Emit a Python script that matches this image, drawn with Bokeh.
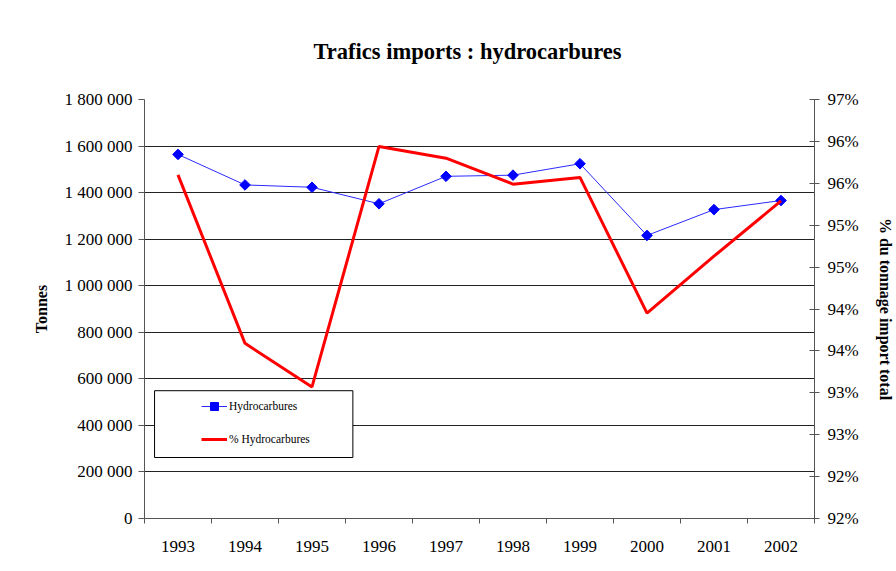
from bokeh.plotting import figure
from bokeh.models import (Range1d, LinearAxis, FixedTicker, Legend, LegendItem,
                          BoxAnnotation)
from bokeh.embed import file_html
from bokeh.resources import INLINE
import numpy as np

# ---- data ----
years = ["1993", "1994", "1995", "1996", "1997", "1998", "1999", "2000", "2001", "2002"]
tonnes = [1564000, 1433000, 1423000, 1352000, 1470000, 1475000, 1524000, 1216000, 1327000, 1366000]
pct_hydro = [95.60, 93.59, 93.07, 95.94, 95.80, 95.49, 95.57, 93.95, 94.63, 95.29]

left_ticks = [0, 200000, 400000, 600000, 800000, 1000000, 1200000, 1400000, 1600000, 1800000]
left_labels = ["0", "200 000", "400 000", "600 000", "800 000", "1 000 000",
               "1 200 000", "1 400 000", "1 600 000", "1 800 000"]
right_ticks = [91.5, 92.0, 92.5, 93.0, 93.5, 94.0, 94.5, 95.0, 95.5, 96.0, 96.5]
right_labels = ["92%", "92%", "93%", "93%", "94%", "94%", "95%", "95%", "96%", "96%", "97%"]

title_text = "Trafics imports : hydrocarbures"
left_title = "Tonnes"
right_title = "% du tonnage import total"
series_names = ["Hydrocarbures", "% Hydrocarbures"]

FONT = "Liberation Serif"

xc = [i + 0.5 for i in range(len(years))]
xb = [i for i in range(len(years) + 1)]

p = figure(width=896, height=571, output_backend="svg", toolbar_location=None,
           x_range=Range1d(0, len(years)), y_range=Range1d(0, 1800000),
           min_border_left=144, min_border_right=80, min_border_top=99,
           min_border_bottom=53, title=title_text)
p.extra_y_ranges = {"pct": Range1d(91.5, 96.5)}

p.title.text_font = FONT
p.title.text_font_size = "22.5px"
p.title.text_font_style = "bold"
p.title.align = "left"
p.title.offset = 169
p.title.standoff = 72
p.title.text_color = "#000000"

p.outline_line_color = None
p.background_fill_color = "white"
p.border_fill_color = "white"

p.xgrid.visible = False
p.ygrid.ticker = FixedTicker(ticks=left_ticks)
p.ygrid.grid_line_color = "#222222"
p.ygrid.grid_line_width = 1

axis_col = "#555555"

# x axis
xa = p.xaxis[0]
xa.ticker = FixedTicker(ticks=xc, minor_ticks=xb)
xa.major_label_overrides = {x: y for x, y in zip(xc, years)}
xa.major_tick_out = 0
xa.major_tick_in = 0
xa.minor_tick_out = 5
xa.minor_tick_in = 0
xa.minor_tick_line_color = axis_col
xa.axis_line_color = axis_col
xa.major_label_standoff = 17
xa.major_label_text_font = FONT
xa.major_label_text_font_size = "17px"
xa.major_label_text_color = "#000000"

# left axis
ya = p.yaxis[0]
ya.ticker = FixedTicker(ticks=left_ticks)
ya.major_label_overrides = {t: l for t, l in zip(left_ticks, left_labels)}
ya.major_tick_out = 6
ya.major_tick_in = 0
ya.minor_tick_line_color = None
ya.axis_line_color = axis_col
ya.major_tick_line_color = axis_col
ya.major_label_standoff = 6
ya.major_label_text_font = FONT
ya.major_label_text_font_size = "17px"
ya.major_label_text_color = "#000000"
ya.axis_label = left_title
ya.axis_label_text_font = FONT
ya.axis_label_text_font_size = "16px"
ya.axis_label_text_font_style = "bold"
ya.axis_label_standoff = 12
ya.axis_label_text_color = "#000000"

# right axis
ra = LinearAxis(y_range_name="pct", ticker=FixedTicker(ticks=right_ticks))
ra.major_label_overrides = {t: l for t, l in zip(right_ticks, right_labels)}
ra.major_tick_out = 5
ra.major_tick_in = 5
ra.minor_tick_line_color = None
ra.axis_line_color = axis_col
ra.major_tick_line_color = axis_col
ra.major_label_standoff = 8
ra.major_label_text_font = FONT
ra.major_label_text_font_size = "17px"
ra.major_label_text_color = "#000000"
ra.axis_label = right_title
ra.axis_label_text_font = FONT
ra.axis_label_text_font_size = "16px"
ra.axis_label_text_font_style = "bold"
ra.axis_label_standoff = 15
ra.axis_label_text_color = "#000000"
p.add_layout(ra, "right")

# series
bl = p.line(xc, tonnes, line_color="#2a2aff", line_width=1)
bs = p.scatter(xc, tonnes, marker="square", angle=np.pi / 4, size=7.5,
               fill_color="#0000ff", line_color="#0000ff")
rl = p.line(xc, pct_hydro, line_color="#ff0000", line_width=3, y_range_name="pct")

# legend frame
box = BoxAnnotation(left=0.15, right=3.11, bottom=262000, top=549000,
                    fill_color="white", fill_alpha=1, line_color="#000000",
                    line_width=1, line_alpha=1)
p.add_layout(box)

legend = Legend(items=[LegendItem(label=series_names[0], renderers=[bl, bs]),
                       LegendItem(label=series_names[1], renderers=[rl])],
                location=(57, 69), padding=0, margin=0, spacing=13,
                glyph_width=26, glyph_height=20, label_height=20, label_standoff=2,
                border_line_alpha=0, background_fill_alpha=0,
                label_text_font=FONT, label_text_font_size="11.5px",
                label_text_color="#000000")
p.add_layout(legend, "center")

open("out.html", "w").write(file_html(p, INLINE))
